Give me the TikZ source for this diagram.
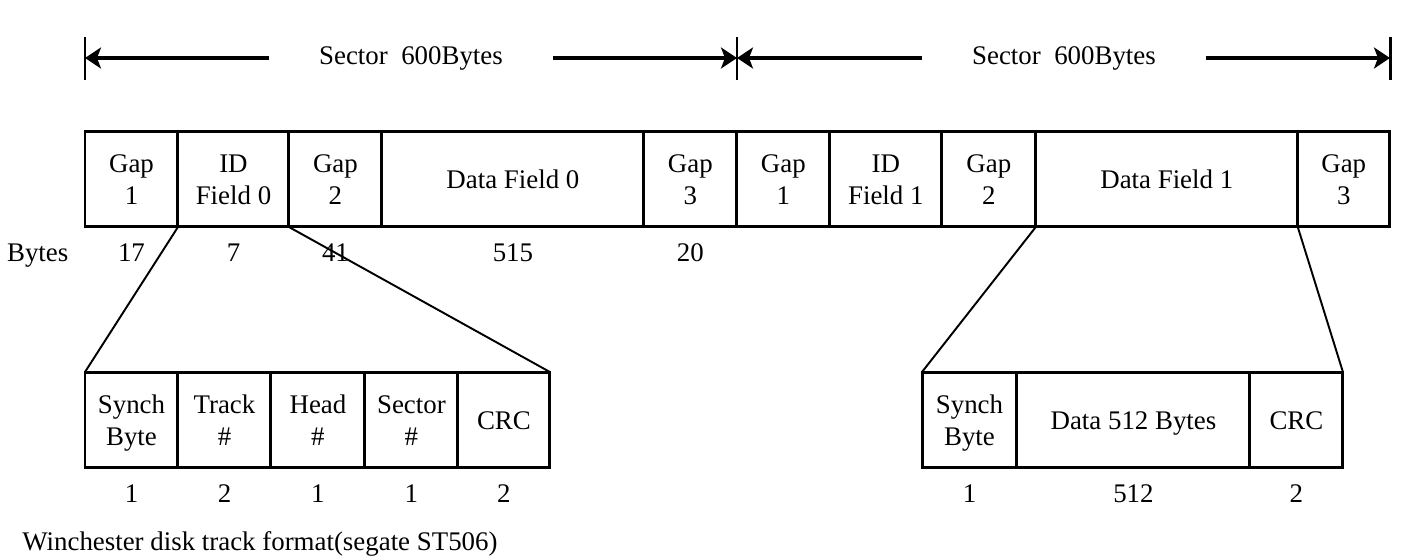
\documentclass[tikz,border=0pt]{standalone}
\usepackage{fontspec}
\setmainfont{Liberation Serif}
\usepackage{tikz}
\usetikzlibrary{positioning, arrows.meta}
\newcommand{\schrift}{\fontsize{15.3}{18.2}\selectfont}
\newcommand{\zs}{\rule[-3.6pt]{0pt}{18.2pt}}
\newcommand{\zl}[2]{#1\zs\\#2\zs}
\tikzstyle{feld} = [draw=black, line width=1.7pt, minimum height=1.92cm, inner sep=0pt, outer sep=0pt, align=center, font=\schrift]
\tikzstyle{zahl} = [inner sep=0pt, text height=10.5pt, text depth=3.5pt, font=\schrift]
\tikzstyle{arrow} = [-{Stealth[length=0.32cm, width=0.42cm, inset=0.08cm]}, line width=2.2pt]
\tikzstyle{strich} = [line width=1.1pt]
\tikzstyle{marke} = [line width=1.7pt]

\begin{document}
\begin{tikzpicture}[x=0.02cm, y=-0.02cm, node distance=1cm]

    	\useasboundingbox (0,0) rectangle (1421,559);

    	% sector marks
    	\coordinate (t0) at (85,58);
    	\coordinate (t1) at (737,58);
    	\coordinate (t2) at (1390,58);
    	\draw[marke] ([yshift=0.42cm]t0) -- ([yshift=-0.44cm]t0);
    	\draw[marke] ([yshift=0.42cm]t1) -- ([yshift=-0.44cm]t1);
    	\draw[marke] ([yshift=0.42cm]t2) -- ([yshift=-0.44cm]t2);

    	\node[zahl, inner xsep=1cm] (s0) at (411,58) {Sector\ \ 600Bytes};
    	\node[zahl, inner xsep=1cm] (s1) at (1064,58) {Sector\ \ 600Bytes};

    	\draw[arrow] (s0.west) -- (t0);
    	\draw[arrow] (s0.east) -- (t1);
    	\draw[arrow] (s1.west) -- (t1);
    	\draw[arrow] (s1.east) -- (t2);

    	% track
    	\node[feld, minimum width=1.86cm, anchor=north west] (g1) at (85,131) {\zl{Gap}{1}};
    	\node[feld, minimum width=2.22cm, right=0pt of g1] (id0) {\zl{ID}{Field 0}};
    	\node[feld, minimum width=1.86cm, right=0pt of id0] (g2) {\zl{Gap}{2}};
    	\node[feld, minimum width=5.24cm, right=0pt of g2] (df0) {Data Field 0\zs};
    	\node[feld, minimum width=1.86cm, right=0pt of df0] (g3) {\zl{Gap}{3}};
    	\node[feld, minimum width=1.86cm, right=0pt of g3] (g1b) {\zl{Gap}{1}};
    	\node[feld, minimum width=2.24cm, right=0pt of g1b] (id1) {\zl{ID}{Field 1}};
    	\node[feld, minimum width=1.88cm, right=0pt of id1] (g2b) {\zl{Gap}{2}};
    	\node[feld, minimum width=5.24cm, right=0pt of g2b] (df1) {Data Field 1\zs};
    	\node[feld, minimum width=1.84cm, right=0pt of df1] (g3b) {\zl{Gap}{3}};

    	\node[zahl, below=0.32cm of g1] (n17) {17};
    	\node[zahl, below=0.32cm of id0] (n7) {7};
    	\node[zahl, below=0.32cm of g2] (n41) {41};
    	\node[zahl, below=0.32cm of df0] (n515) {515};
    	\node[zahl, below=0.32cm of g3] (n20) {20};
    	\node[zahl, anchor=base east] (bytes) at ([xshift=-0.98cm]n17.base west) {Bytes};

    	% ID field
    	\node[feld, minimum width=1.86cm, anchor=north west] (a1) at (85,372) {\zl{Synch}{Byte}};
    	\node[feld, minimum width=1.86cm, right=0pt of a1] (a2) {\zl{Track}{\#}};
    	\node[feld, minimum width=1.88cm, right=0pt of a2] (a3) {\zl{Head}{\#}};
    	\node[feld, minimum width=1.86cm, right=0pt of a3] (a4) {\zl{Sector}{\#}};
    	\node[feld, minimum width=1.84cm, right=0pt of a4] (a5) {CRC\zs};

    	\node[zahl, below=0.32cm of a1] (m1) {1};
    	\node[zahl, below=0.32cm of a2] (m2) {2};
    	\node[zahl, below=0.32cm of a3] (m3) {1};
    	\node[zahl, below=0.32cm of a4] (m4) {1};
    	\node[zahl, below=0.32cm of a5] (m5) {2};

    	% data field
    	\node[feld, minimum width=1.9cm, anchor=north west] (b1) at (922,372) {\zl{Synch}{Byte}};
    	\node[feld, minimum width=4.66cm, right=0pt of b1] (b2) {Data 512 Bytes\zs};
    	\node[feld, minimum width=1.86cm, right=0pt of b2] (b3) {CRC\zs};

    	\node[zahl, below=0.32cm of b1] (k1) {1};
    	\node[zahl, below=0.32cm of b2] (k2) {512};
    	\node[zahl, below=0.32cm of b3] (k3) {2};

    	\draw[strich] (id0.south west) -- (a1.north west);
    	\draw[strich] (id0.south east) -- (a5.north east);
    	\draw[strich] (df1.south west) -- (b1.north west);
    	\draw[strich] (df1.south east) -- (b3.north east);

    	\node[zahl, anchor=base west] (titel) at (22,550) {Winchester disk track format(segate ST506)};

\end{tikzpicture}
\end{document}
